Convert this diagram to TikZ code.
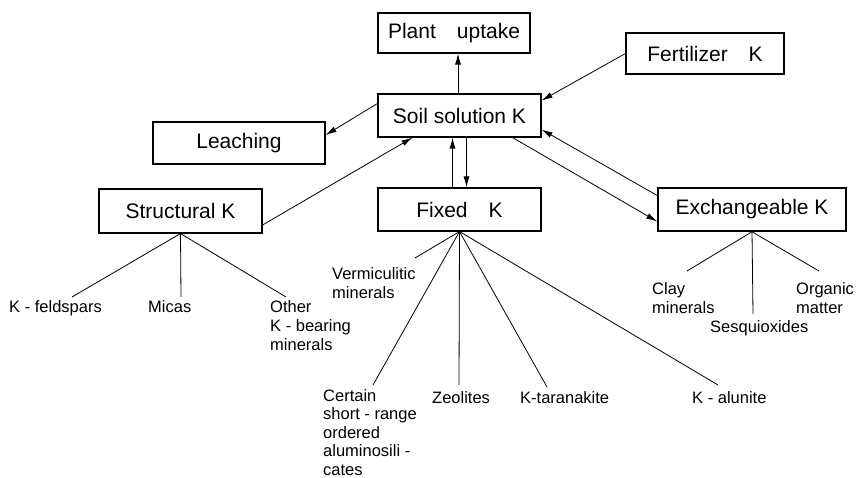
\documentclass[tikz,border=0pt]{standalone}
\usepackage{fontspec}
\setmainfont{Liberation Sans}
\usetikzlibrary{arrows.meta}
\tikzset{
  kbox/.style={draw, line width=1.1pt, inner sep=0pt, font=\fontsize{21}{25}\selectfont},
  leaf/.style={anchor=north west, inner sep=0pt, align=left, font=\fontsize{16.5}{19}\selectfont},
  flow/.style={line width=0.8pt, -{Latex[length=11pt,width=6pt]}},
  twig/.style={line width=0.8pt}
}
\begin{document}
\begin{tikzpicture}[x=1pt,y=-1pt]
\useasboundingbox (0,0) rectangle (866,478);
\node[kbox, minimum width=152pt, minimum height=40pt] (plant) at (454,33) {Plant\quad uptake};
\node[kbox, minimum width=158pt, minimum height=41pt] (fert) at (705,53.5) {Fertilizer\quad K};
\node[kbox, minimum width=163pt, minimum height=43pt] (soil) at (459.5,115.5) {Soil solution K};
\node[kbox, minimum width=172pt, minimum height=42pt] (leach) at (239,143) {Leaching};
\node[kbox, minimum width=163pt, minimum height=44pt] (struct) at (180.5,211) {Structural K};
\node[kbox, minimum width=163pt, minimum height=43pt] (fixed) at (459.5,209.5) {Fixed\quad K};
\node[kbox, line width=1.6pt, minimum width=188pt, minimum height=43pt] (exch) at (752,209.5) {Exchangeable K};

\draw[flow] ([xshift=-1.5pt]soil.north) -- ([xshift=-1.5pt]soil.north |- plant.south);
\draw[flow] (fert.west) -- ([yshift=15pt]soil.east);
\draw[flow] ([yshift=12pt]soil.west) -- ([yshift=8pt]leach.east);
\draw[flow] ([yshift=-14pt]struct.east) -- ([xshift=-47pt]soil.south);
\draw[flow] ([xshift=-7pt]fixed.north) -- ([xshift=-7pt]soil.south);
\draw[flow] ([xshift=7pt]soil.south) -- ([xshift=7pt]fixed.north);
\draw[flow] ([xshift=53pt]soil.south) -- ([yshift=-12pt]exch.west);
\draw[flow] ([yshift=14pt]exch.west) -- ([yshift=-14pt]soil.east);

\node[leaf] (kfeld) at (9,300) {K - feldspars};
\node[leaf] (micas) at (148,300) {Micas};
\node[leaf] (other) at (270,300) {Other\\K - bearing\\minerals};
\draw[twig] (struct.south) -- ([xshift=63pt,yshift=3pt]kfeld.north west);
\draw[twig] (struct.south) -- ([xshift=33pt,yshift=3pt]micas.north west);
\draw[twig] (struct.south) -- ([xshift=16pt,yshift=3pt]other.north west);

\node[leaf] (verm) at (332,267) {Vermiculitic\\minerals};
\node[leaf, font=\fontsize{16.5}{18.5}\selectfont] (certain) at (323,389) {Certain\\short - range\\ordered\\aluminosili -\\cates};
\node[leaf] (zeol) at (432,391) {Zeolites};
\node[leaf] (taran) at (520,391) {K-taranakite};
\node[leaf] (alun) at (692,391) {K - alunite};
\draw[twig] (fixed.south) -- ([xshift=83pt,yshift=9pt]verm.north west);
\draw[twig] (fixed.south) -- ([xshift=50pt,yshift=4pt]certain.north west);
\draw[twig] (fixed.south) -- ([xshift=27pt,yshift=6pt]zeol.north west);
\draw[twig] (fixed.south) -- ([xshift=27pt,yshift=4pt]taran.north west);
\draw[twig] (fixed.south) -- ([xshift=26pt,yshift=6pt]alun.north west);

\node[leaf] (clay) at (652,282) {Clay\\minerals};
\node[leaf] (sesq) at (710,320) {Sesquioxides};
\node[leaf] (organic) at (796,282) {Organic\\matter};
\draw[twig] (exch.south) -- ([xshift=35pt,yshift=11pt]clay.north west);
\draw[twig] (exch.south) -- ([xshift=43pt,yshift=6pt]sesq.north west);
\draw[twig] (exch.south) -- ([xshift=23pt,yshift=11pt]organic.north west);
\end{tikzpicture}
\end{document}
